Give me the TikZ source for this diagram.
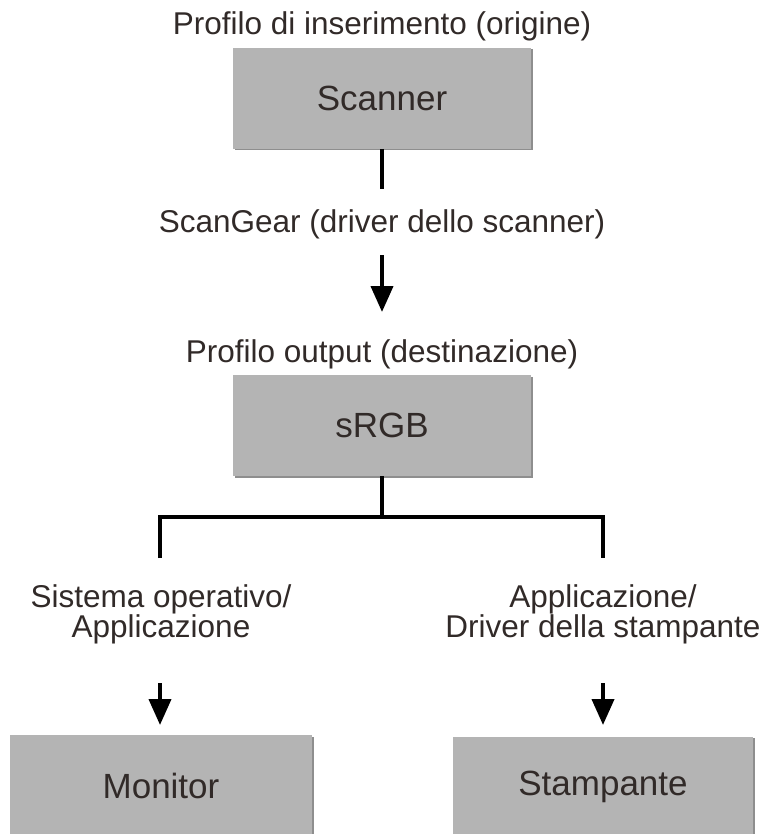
\documentclass[tikz,border=0pt]{standalone}
\usepackage{fontspec}
\setmainfont{Liberation Sans}
\usetikzlibrary{arrows.meta}
\definecolor{boxgray}{HTML}{B4B4B4}
\definecolor{shadowgray}{HTML}{8E8E8E}
\definecolor{txt}{HTML}{312A28}
\tikzset{
  grbox/.style={fill=boxgray, draw=none, inner sep=0pt, outer sep=0pt,
    minimum height=101pt, text=txt, font=\fontsize{35}{40}\selectfont,
    preaction={fill=shadowgray, transform canvas={shift={(1.5pt,-1.5pt)}}}},
  lbl/.style={text=txt, inner sep=0pt, outer sep=0pt, align=center,
    font=\fontsize{31.5}{30}\selectfont, anchor=base},
  conn/.style={draw=black, line width=4pt, line join=miter},
  arr/.style={conn, -{Triangle[width=22pt,length=26pt]}}
}
\begin{document}
\begin{tikzpicture}[x=1pt,y=-1pt]
\useasboundingbox (0,0) rectangle (767,834);
% labels
\node[lbl] (t1) at (382,35) {Profilo di inserimento (origine)};
\node[lbl] (t2) at (382,233) {ScanGear (driver dello scanner)};
\node[lbl] (t3) at (382,362) {Profilo output (destinazione)};
\node[lbl] (t4) at (161,637) {Sistema operativo/\\Applicazione};
\node[lbl] (t5) at (603,637) {Applicazione/\\Driver della stampante};
% boxes
\node[grbox, minimum width=298pt] (scan) at (382,98.5) {Scanner};
\node[grbox, minimum width=298pt] (srgb) at (382,425.5) {sRGB};
\node[grbox, minimum width=302pt] (mon) at (161,785.5) {Monitor};
\node[grbox, minimum width=300pt] (stam) at (603,787) {Stampante};
% coordinates
\coordinate (c1) at (382,189);
\coordinate (a1s) at (382,255);
\coordinate (a1e) at (382,312);
\coordinate (j) at (382,517);
\coordinate (jl) at (160,517);
\coordinate (jr) at (603,517);
\coordinate (bl) at (160,558);
\coordinate (br) at (603,558);
\coordinate (a2s) at (160,683);
\coordinate (a2e) at (160,725);
\coordinate (a3s) at (603,683);
\coordinate (a3e) at (603,725);
% connectors
\draw[conn] (scan.south) -- (c1);
\draw[arr] (a1s) -- (a1e);
\draw[conn] (srgb.south) -- (j);
\draw[conn] (bl) -- (jl) -- (jr) -- (br);
\draw[arr] (a2s) -- (a2e);
\draw[arr] (a3s) -- (a3e);
\end{tikzpicture}
\end{document}
